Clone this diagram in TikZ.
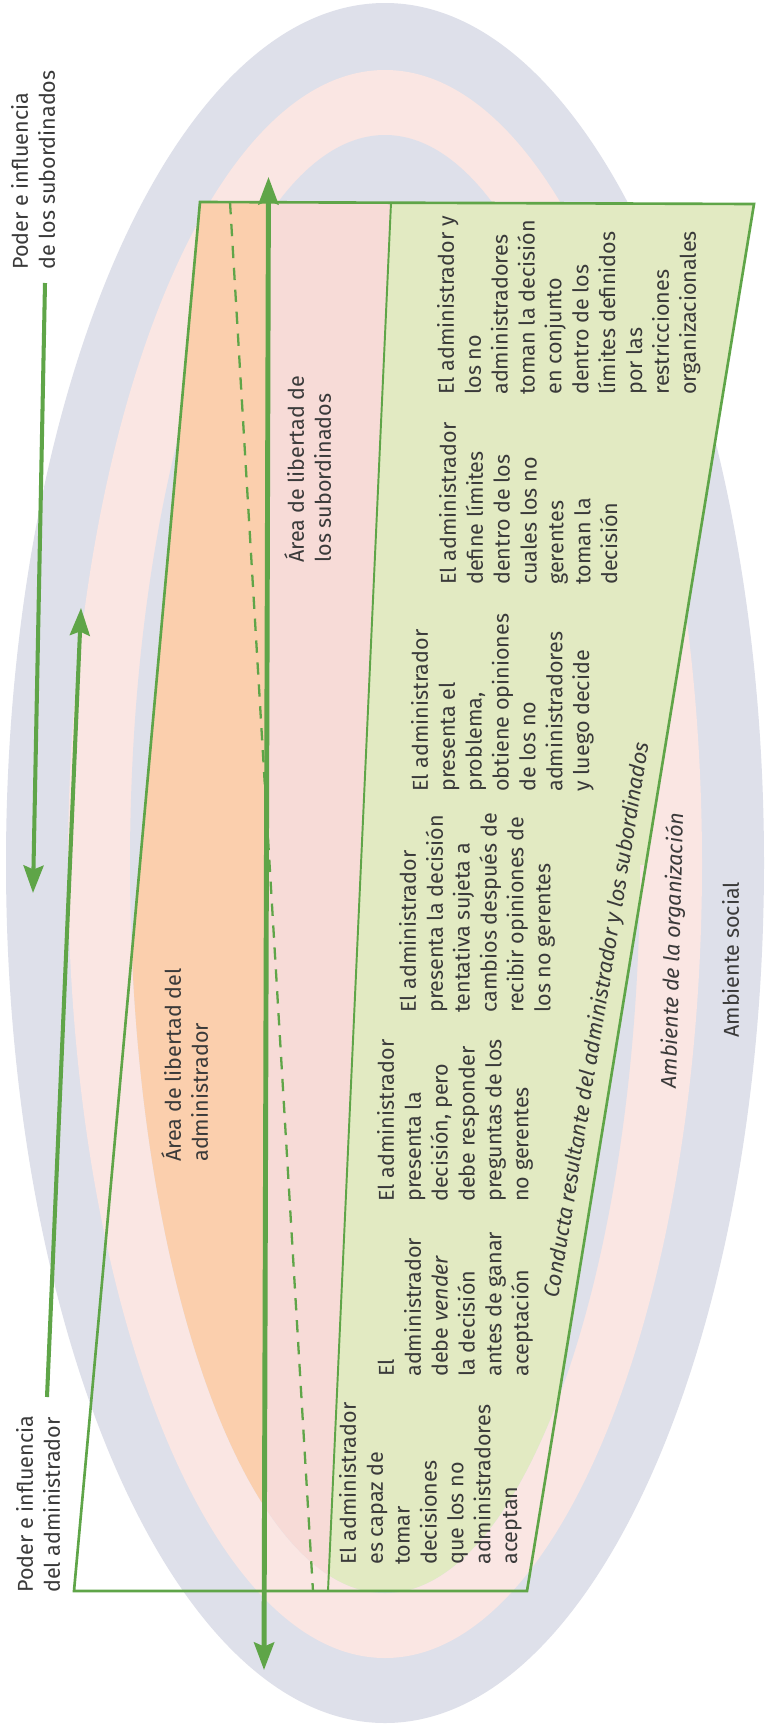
\documentclass[tikz,border=0pt]{standalone}
\usepackage{fontspec}
\setmainfont{Fira Sans}
\usepackage{tikz}
\usetikzlibrary{arrows.meta}
\definecolor{social}{HTML}{DEE0EA}
\definecolor{orgzone}{HTML}{FAE6E3}
\definecolor{admzone}{HTML}{FBCFAD}
\definecolor{subzone}{HTML}{F7DBD7}
\definecolor{jointzone}{HTML}{E2EAC2}
\definecolor{leaf}{HTML}{5FA548}
\definecolor{ink}{HTML}{3A3A3A}

\begin{document}
\begin{tikzpicture}[
    x=0.02cm, y=-0.02cm,
    spear/.tip={Stealth[length=0.55cm, width=0.4cm, inset=0.08cm]},
    cell/.style={rotate=90, anchor=north west, align=left, inner sep=0pt, text=ink, font=\fontsize{12.25}{15.3}\selectfont},
    slant/.style={inner sep=0pt, text=ink, font=\fontsize{12.25}{15.3}\selectfont\itshape},
    rim/.style={draw=leaf, line width=1.5pt},
    power/.style={leaf, line width=2.3pt, -spear},
    axis/.style={leaf, line width=2.8pt, spear-spear}
]

% Environments
\useasboundingbox (0,0) rectangle (765,1731);
\fill[white] (0,0) rectangle (765,1731);
\fill[social] (385,863) ellipse [x radius=379, y radius=860];
\fill[orgzone] (385,864) ellipse [x radius=317, y radius=794];
\fill[social] (385,864) ellipse [x radius=255, y radius=729];

% Corners
\coordinate (tl) at (200,202);
\coordinate (tr) at (754,204);
\coordinate (br) at (527,1591);
\coordinate (bl) at (74,1591);
\coordinate (dt) at (391,203);
\coordinate (db) at (328,1591);
\coordinate (qt) at (230,202);
\coordinate (qb) at (313,1591);
\coordinate (axtop) at (268.5,177);
\coordinate (axbot) at (264,1670);

% Areas of freedom
\begin{scope}
  \clip (tl) -- (tr) -- (br) -- (bl) -- cycle;
  \begin{scope}
    \clip (0,0) rectangle (765,864);
    \fill[admzone] (0,0) -- (269,0) -- (263.8,1731) -- (0,1731) -- cycle;
    \fill[subzone] (269,0) -- (400.2,0) -- (321.6,1731) -- (263.8,1731) -- cycle;
    \fill[jointzone] (400.2,0) -- (765,0) -- (765,1731) -- (321.6,1731) -- cycle;
  \end{scope}
  \begin{scope}
    \clip (385,864) ellipse [x radius=255, y radius=729];
    \fill[admzone] (0,0) -- (269,0) -- (263.8,1731) -- (0,1731) -- cycle;
    \fill[subzone] (269,0) -- (400.2,0) -- (321.6,1731) -- (263.8,1731) -- cycle;
    \fill[jointzone] (400.2,0) -- (765,0) -- (765,1731) -- (321.6,1731) -- cycle;
  \end{scope}
\end{scope}

% Frame and dividers
\draw[rim] (tl) -- (tr) -- (br) -- (bl) -- cycle;
\draw[leaf, line width=1.1pt] (dt) -- (db);
\draw[leaf, line width=1.3pt, dash pattern=on 7pt off 5.5pt] (qt) -- (qb);
\draw[axis] (axtop) -- (axbot);

% Power arrows
\coordinate (subA) at (45,283);
\coordinate (subB) at (33,893);
\coordinate (admA) at (47,1397);
\coordinate (admB) at (81,608);
\draw[power] (subA) -- (subB);
\draw[power] (admA) -- (admB);

% Labels
\node[cell] (psub) at (6.5,270) {\rule{0pt}{12pt}Poder e influencia\\de los subordinados};
\node[cell] (padm) at (11.5,1593) {\rule{0pt}{12pt}Poder e influencia\\del administrador};
\node[cell] (fadm) at (159.5,1162) {\rule{0pt}{12pt}Área de libertad del\\administrador};
\node[cell] (fsub) at (282.5,563) {\rule{0pt}{12pt}Área de libertad de\\los subordinados};

% Behaviour cells
\node[cell] (b1) at (334.5,1565) {\rule{0pt}{12pt}El administrador\\es capaz de\\tomar\\decisiones\\que los no\\administradores\\aceptan};
\node[cell] (b2) at (372.5,1377) {\rule{0pt}{12pt}El\\administrador\\debe \textit{vender}\\la decisión\\antes de ganar\\aceptación};
\node[cell] (b3) at (372.5,1202) {\rule{0pt}{12pt}El administrador\\presenta la\\decisión, pero\\debe responder\\preguntas de los\\no gerentes};
\node[cell] (b4) at (394.5,1013) {\rule{0pt}{12pt}El administrador\\presenta la decisión\\tentativa sujeta a\\cambios después de\\recibir opiniones de\\los no gerentes};
\node[cell] (b5) at (406.5,792) {\rule{0pt}{12pt}El administrador\\presenta el\\problema,\\obtiene opiniones\\de los no\\administradores\\y luego decide};
\node[cell] (b6) at (434.5,585) {\rule{0pt}{12pt}El administrador\\define límites\\dentro de los\\cuales los no\\gerentes\\toman la\\decisión};
\node[cell] (b7) at (432.5,395) {\rule{0pt}{12pt}El administrador y\\los no\\administradores\\toman la decisión\\en conjunto\\dentro de los\\límites definidos\\por las\\restricciones\\organizacionales};

% Environment labels
\node[slant, rotate=80.7] (conduct) at (598,1020) {Conducta resultante del administrador y los subordinados};
\node[cell, font=\fontsize{12.25}{15.3}\selectfont\itshape, rotate=-1.5] (envorg) at (654.5,1088) {\rule{0pt}{12pt}Ambiente de la organización};
\node[cell] (envsoc) at (717.5,1038) {\rule{0pt}{12pt}Ambiente social};

\end{tikzpicture}
\end{document}
